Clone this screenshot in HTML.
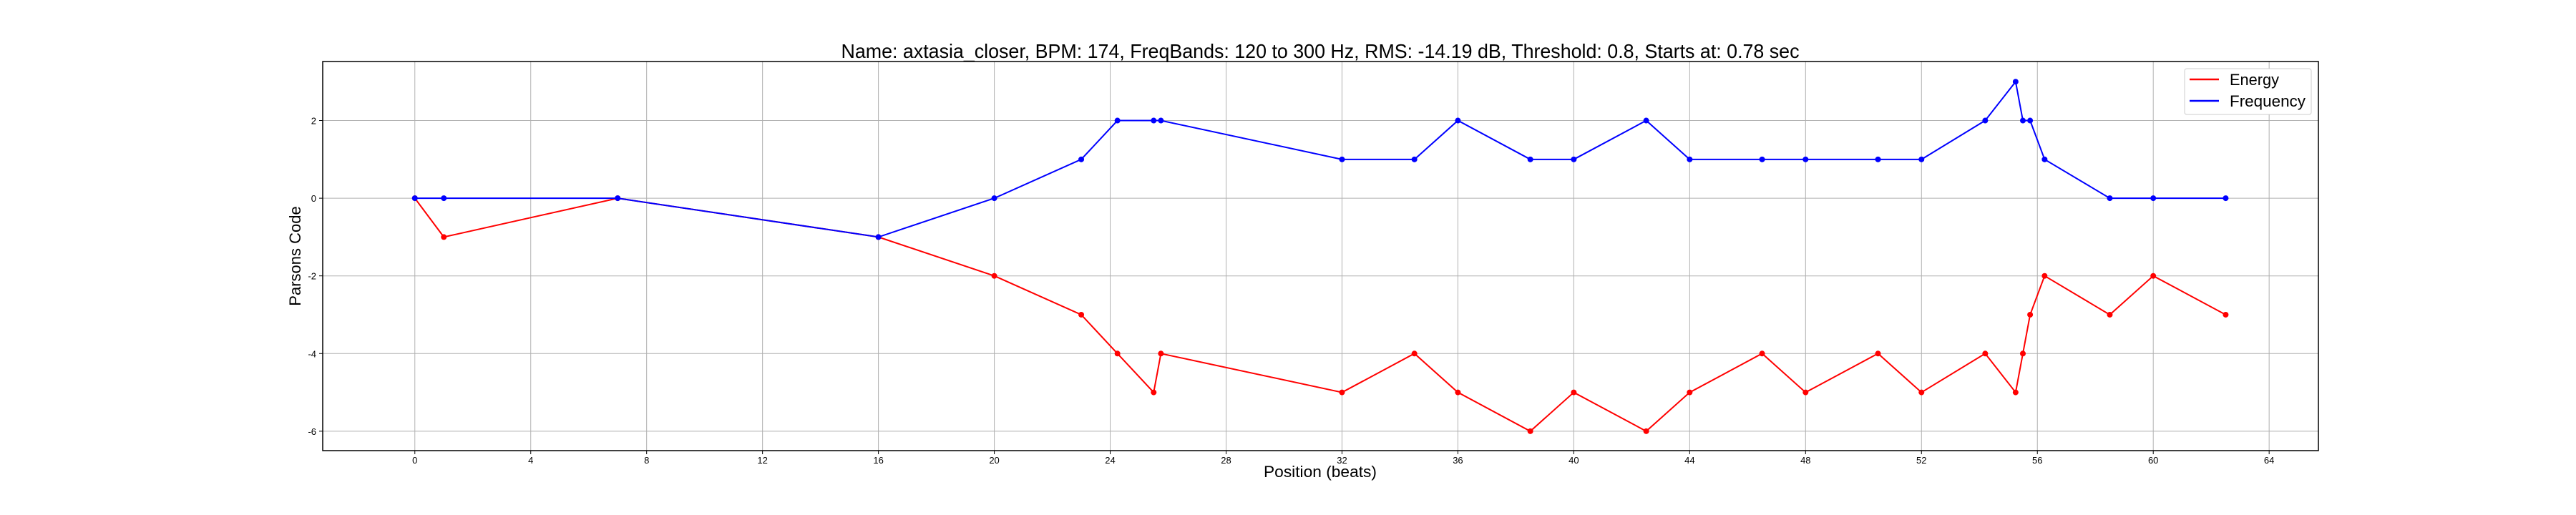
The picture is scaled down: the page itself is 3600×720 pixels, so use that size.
<!DOCTYPE html>
<html><head><meta charset="utf-8"><style>
html,body{margin:0;padding:0;background:#fff;}
svg{display:block;font-family:"Liberation Sans","DejaVu Sans",sans-serif;}
</style></head><body>
<svg id="chart" width="3600" height="720" viewBox="0 0 3600 720" xmlns="http://www.w3.org/2000/svg">
<rect width="3600" height="720" fill="#fff"/>
<g id="grid"></g>
<g id="ticks"></g>
<g id="series"></g>
<rect x="451" y="86" width="2789" height="544" fill="none" stroke="#000" stroke-width="1.5"/>
<text x="1845" y="81" text-anchor="middle" font-size="28" textLength="1339" lengthAdjust="spacingAndGlyphs">Name: axtasia_closer, BPM: 174, FreqBands: 120 to 300 Hz, RMS: -14.19 dB, Threshold: 0.8, Starts at: 0.78 sec</text>
<text x="1845" y="667" text-anchor="middle" font-size="22" textLength="158" lengthAdjust="spacingAndGlyphs">Position (beats)</text>
<text x="0" y="0" transform="translate(420,358) rotate(-90)" text-anchor="middle" font-size="22">Parsons Code</text>
<g>
<rect x="3053" y="96" width="177" height="64" rx="3" fill="#fff" stroke="#ccc"/>
<line x1="3060" y1="111" x2="3101" y2="111" stroke="red" stroke-width="2.5"/>
<text x="3116" y="119" font-size="22" textLength="69" lengthAdjust="spacingAndGlyphs">Energy</text>
<line x1="3060" y1="141" x2="3101" y2="141" stroke="blue" stroke-width="2.5"/>
<text x="3116" y="149" font-size="22" textLength="106" lengthAdjust="spacingAndGlyphs">Frequency</text>
</g>
</svg>
<script>
const positions = [0,1,7,16,20,23,24.25,25.5,25.75,32,34.5,36,38.5,40,42.5,44,46.5,48,50.5,52,54.2,55.25,55.5,55.75,56.25,58.5,60,62.5];
const energyValues = [0,-1,0,-1,-2,-3,-4,-5,-4,-5,-4,-5,-6,-5,-6,-5,-4,-5,-4,-5,-4,-5,-4,-3,-2,-3,-2,-3];
const frequencyValues = [0,0,0,-1,0,1,2,2,2,1,1,2,1,1,2,1,1,1,1,1,2,3,2,2,1,0,0,0];
const xTicks = [0,4,8,12,16,20,24,28,32,36,40,44,48,52,56,60,64];
const yTicks = [2,0,-2,-4,-6];

const X0=451,X1=3240,Y0=86,Y1=630,xMin=-3.18,xMax=65.7,yMin=-6.5,yMax=3.52;
const sx=v=>X0+(v-xMin)/(xMax-xMin)*(X1-X0);
const sy=v=>Y1-(v-yMin)/(yMax-yMin)*(Y1-Y0);
const NS="http://www.w3.org/2000/svg";
function mk(tag,attrs,parent){const e=document.createElementNS(NS,tag);for(const k in attrs)e.setAttribute(k,attrs[k]);parent.appendChild(e);return e;}
const grid=document.getElementById('grid'),ticks=document.getElementById('ticks'),series=document.getElementById('series');
xTicks.forEach(t=>{
  const x=sx(t);
  const g=mk('line',{x1:x,y1:Y0,x2:x,y2:Y1,stroke:'#b0b0b0','stroke-width':1},grid);
  
  
  const tk=mk('line',{x1:x,y1:Y1,x2:x,y2:Y1+5,stroke:'#000','stroke-width':1},ticks);
  
  
  const lb=mk('text',{x:x,y:Y1+18,'text-anchor':'middle','font-size':13},ticks);
  lb.textContent=t;
  
  
});
yTicks.forEach(t=>{
  const y=sy(t);
  const g=mk('line',{x1:X0,y1:y,x2:X1,y2:y,stroke:'#b0b0b0','stroke-width':1},grid);
  
  
  const tk=mk('line',{x1:X0-5,y1:y,x2:X0,y2:y,stroke:'#000','stroke-width':1},ticks);
  
  
  const lb=mk('text',{x:X0-9,y:y+5,'text-anchor':'end','font-size':13},ticks);
  lb.textContent=t;
  
  
});
function drawSeries(vals,color,name){
  const pts=positions.map((p,i)=>sx(p)+','+sy(vals[i])).join(' ');
  const pl=mk('polyline',{points:pts,fill:'none',stroke:color,'stroke-width':2},series);
  
  
  positions.forEach((p,i)=>{
    const c=mk('circle',{cx:sx(p),cy:sy(vals[i]),r:4,fill:color},series);
    
    
  });
}
drawSeries(energyValues,'red','energy');
drawSeries(frequencyValues,'blue','frequency');
</script>
</body></html>
